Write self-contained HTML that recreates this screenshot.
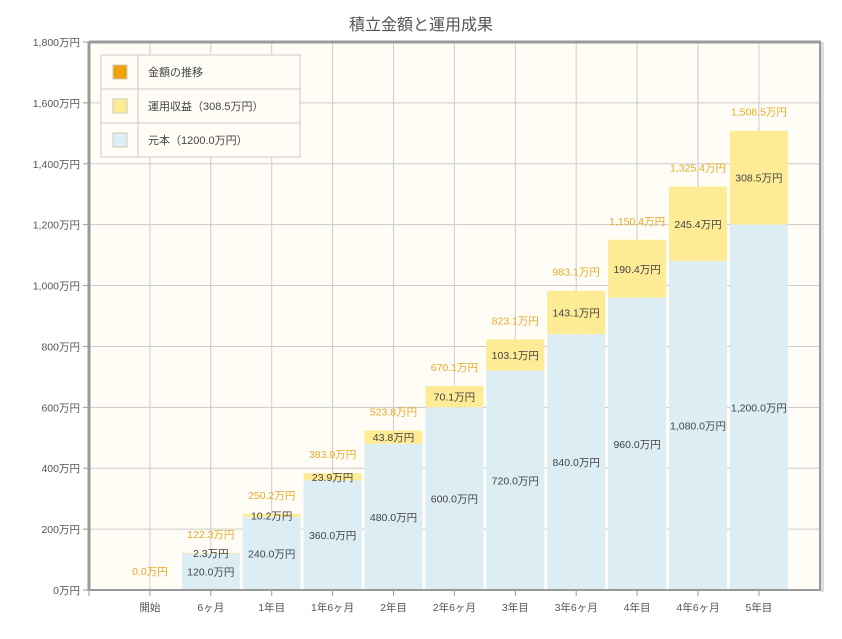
<!DOCTYPE html>
<html><head><meta charset="utf-8"><style>
body{margin:0;background:#fff;}
svg text{font-family:"Liberation Sans","Noto Sans CJK JP",sans-serif;}
</style></head><body>
<svg id="c" width="842" height="634" xmlns="http://www.w3.org/2000/svg">
<rect width="842" height="634" fill="#fff"/>
<text x="421" y="30" font-size="16" fill="#555" text-anchor="middle">積立金額と運用成果</text>
<rect x="89" y="42" width="731" height="548" fill="#fffdf5"/>
<g id="grid"></g>
<g id="bars"></g>
<rect x="820" y="42" width="4" height="550" fill="#ddd"/>
<line x1="89" y1="42" x2="821" y2="42" stroke="#999" stroke-width="3"/>
<line x1="89" y1="42" x2="89" y2="591" stroke="#999" stroke-width="3"/>
<line x1="820" y1="42" x2="820" y2="591" stroke="#999" stroke-width="2"/>
<line x1="89" y1="590" x2="821" y2="590" stroke="#999" stroke-width="2"/>
<g id="legend">
<rect x="101" y="55" width="199" height="102" fill="#fffdf5" stroke="#ccc"/>
<line x1="101" y1="89" x2="300" y2="89" stroke="#ccc"/>
<line x1="101" y1="123" x2="300" y2="123" stroke="#ccc"/>
<line x1="138" y1="55" x2="138" y2="157" stroke="#ccc"/>
<rect x="113" y="65" width="14" height="14" fill="#f0a30a" stroke="#ccb"/>
<rect x="113" y="99" width="14" height="14" fill="#fdeb95" stroke="#ccb"/>
<rect x="113" y="133" width="14" height="14" fill="#dcedf4" stroke="#ccb"/>
<text x="148" y="76" font-size="11" fill="#444">金額の推移</text>
<text x="148" y="110" font-size="11" fill="#444">運用収益（308.5万円）</text>
<text x="148" y="144" font-size="11" fill="#444">元本（1200.0万円）</text>
</g>
</svg>
<script>
const ns="http://www.w3.org/2000/svg";
function el(p,t,a,txt){const e=document.createElementNS(ns,t);for(const k in a)e.setAttribute(k,a[k]);if(txt!==undefined)e.textContent=txt;document.getElementById(p).appendChild(e);return e;}
const Y=v=>590-v*548/1800;
const grid="grid",bars="bars";
const ylab=["0万円","200万円","400万円","600万円","800万円","1,000万円","1,200万円","1,400万円","1,600万円","1,800万円"];
for(let i=0;i<10;i++){const y=Y(i*200);
 if(i>0)el(grid,"line",{x1:89,x2:820,y1:y,y2:y,stroke:"#ccc","stroke-width":1});
 el(grid,"line",{x1:83,x2:89,y1:y,y2:y,stroke:"#999"});
 el(grid,"text",{x:80,y:y+4,"font-size":"10.5",fill:"#555","text-anchor":"end"},ylab[i]);}
const cats=["開始","6ヶ月","1年目","1年6ヶ月","2年目","2年6ヶ月","3年目","3年6ヶ月","4年目","4年6ヶ月","5年目"];
const pr=[0,120,240,360,480,600,720,840,960,1080,1200];
const yl=[0,2.3,10.2,23.9,43.8,70.1,103.1,143.1,190.4,245.4,308.5];
const tot=["0.0","122.3","250.2","383.9","523.8","670.1","823.1","983.1","1,150.4","1,325.4","1,508.5"];
for(let i=0;i<12;i++){const x=89+60.9*i;el(grid,"line",{x1:x,x2:x,y1:590,y2:596,stroke:"#999"});}
for(let i=0;i<11;i++){const cx=89+60.9*(i+1);
 el(grid,"line",{x1:cx,x2:cx,y1:42,y2:590,stroke:"#ccc"});
 el(grid,"text",{x:cx,y:611,"font-size":"10.5",fill:"#555","text-anchor":"middle"},cats[i]);
 if(i>0){const yp=Y(pr[i]),yt=Y(pr[i]+yl[i]);
  el(bars,"rect",{x:cx-29,y:yt,width:58,height:yp-yt,fill:"#fdeb95",rx:2});
  el(bars,"rect",{x:cx-29,y:yp,width:58,height:590-yp,fill:"#dcedf4"});
  el(bars,"text",{x:cx,y:(yp+590)/2+4,"font-size":"10.5",fill:"#444","text-anchor":"middle"},pr[i].toFixed(1).replace("1080","1,080").replace("1200","1,200")+"万円");
  el(bars,"text",{x:cx,y:(yp+yt)/2+4,"font-size":"10.5",fill:"#444","text-anchor":"middle"},yl[i].toFixed(1)+"万円");}
 el(bars,"text",{x:cx,y:Y(pr[i]+yl[i])-15,"font-size":"10.5",fill:"#e8a928","text-anchor":"middle"},tot[i]+"万円");}
</script>
</body></html>
